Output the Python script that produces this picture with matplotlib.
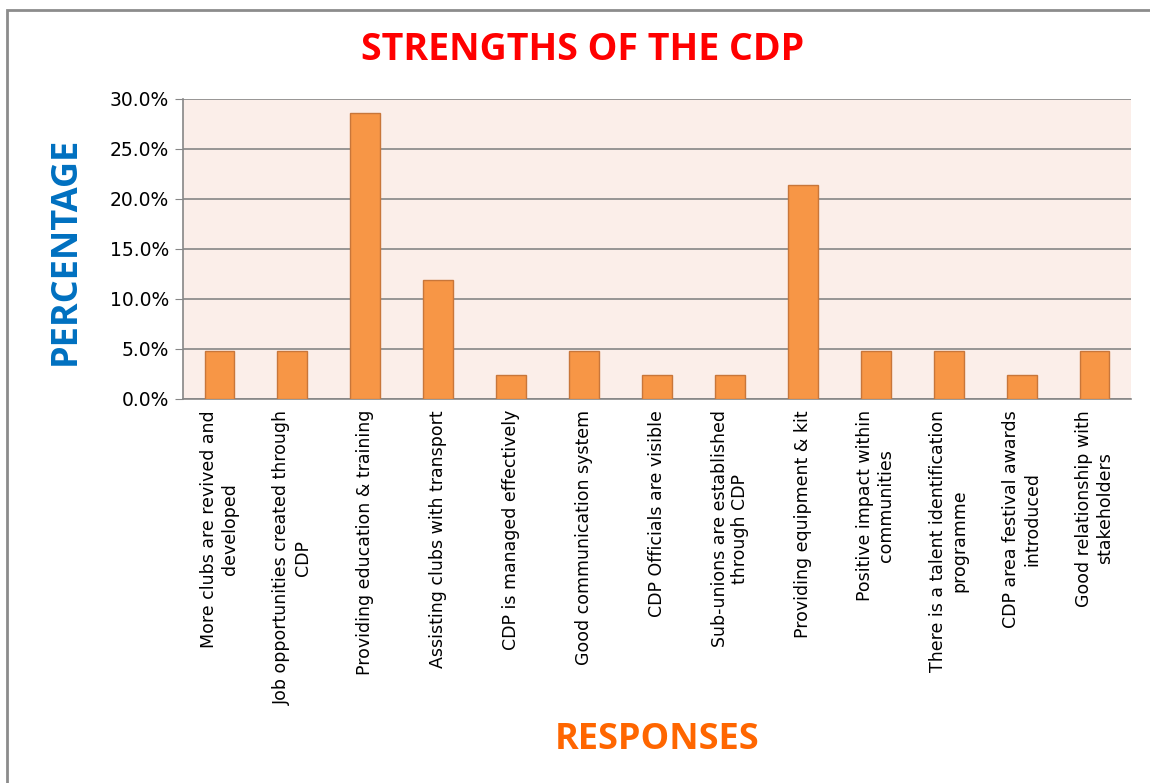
import numpy as np
import matplotlib.pyplot as plt
from matplotlib.ticker import PercentFormatter
from matplotlib.patches import Rectangle

responses = [
    "More clubs are revived and\ndeveloped",
    "Job opportunities created through\nCDP",
    "Providing education & training",
    "Assisting clubs with transport",
    "CDP is managed effectively",
    "Good communication system",
    "CDP Officials are visible",
    "Sub-unions are established\nthrough CDP",
    "Providing equipment & kit",
    "Positive impact within\ncommunities",
    "There is a talent identification\nprogramme",
    "CDP area festival awards\nintroduced",
    "Good relationship with\nstakeholders",
]
percentages = [4.8, 4.8, 28.6, 11.9, 2.4, 4.8, 2.4, 2.4, 21.4, 4.8, 4.8, 2.4, 4.8]

fig = plt.figure(figsize=(11.5, 7.83), dpi=100)
# outer chart border
fig.patches.append(Rectangle((7 / 1150, -0.01), 1.05, 1 - 10 / 783 + 0.01,
                             transform=fig.transFigure, fill=False,
                             edgecolor="#8c8c8c", linewidth=2))

ax = fig.add_axes([183 / 1150, 1 - 399 / 783, (1131 - 183) / 1150, 300 / 783])
ax.set_facecolor("#fbeee9")
x = np.arange(len(responses))
ax.bar(x, percentages, width=0.41, color="#f79646", edgecolor="#c8763a",
       linewidth=1, zorder=3)

ax.set_ylim(0, 30)
ax.set_xlim(-0.5, len(responses) - 0.5)
ax.set_yticks(np.arange(0, 31, 5))
ax.yaxis.set_major_formatter(PercentFormatter(decimals=1))
ax.grid(axis="y", color="#868686", linewidth=1.2, zorder=1)
ax.tick_params(axis="y", length=6, color="#868686", labelsize=13.5, pad=4)
ax.tick_params(axis="x", length=0, pad=8)
ax.set_xticks(x)
ax.set_xticklabels(responses, rotation=90, ha="center", va="top",
                   multialignment="center", fontsize=12.5)
for side in ["top", "right"]:
    ax.spines[side].set_visible(False)
ax.spines["left"].set_color("#868686")
ax.spines["bottom"].set_color("#868686")
ax.spines["left"].set_linewidth(1.2)
ax.spines["bottom"].set_linewidth(1.2)

fig.text(583 / 1150, 1 - 50 / 783, "STRENGTHS OF THE CDP", color="#ff0000",
         fontsize=27, fontweight="bold", family="Open Sans",
         ha="center", va="center")
fig.text(66 / 1150, 1 - 251 / 783, "PERCENTAGE", color="#0070c0",
         fontsize=26, fontweight="bold", family="Open Sans",
         rotation=90, ha="center", va="center")
fig.text(657 / 1150, 1 - 740 / 783, "RESPONSES", color="#ff6600",
         fontsize=26, fontweight="bold", family="Open Sans",
         ha="center", va="center")

fig.savefig("out.png", dpi=100)
